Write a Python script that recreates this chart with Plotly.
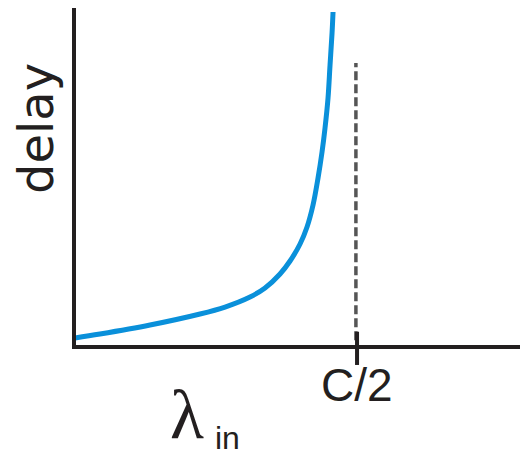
import plotly.graph_objects as go

# arrival rate (in units of C/2) and delay (arbitrary units)
lam = [0.0035, 0.0919, 0.2686, 0.4452, 0.5336, 0.6219, 0.6749, 0.7279, 0.7633, 0.7986, 0.8233,
       0.8445, 0.8622, 0.8763, 0.8869, 0.8975, 0.9046, 0.9117, 0.9152]
delay = [0.265, 0.382, 0.647, 0.971, 1.176, 1.471, 1.735, 2.147, 2.529, 3.029, 3.529,
         4.176, 4.971, 5.735, 6.441, 7.324, 8.294, 9.235, 9.853]
cap_x = [1.0]
cap_label = ["C/2"]
dash_top = 8.35

fig = go.Figure()
fig.add_trace(go.Scatter(x=lam, y=delay, mode="lines", line=dict(color="#0a90da", width=5, shape="spline", smoothing=1.0),
                         hoverinfo="skip", showlegend=False))
# dashed capacity line
fig.add_trace(go.Scatter(x=[cap_x[0] - 0.004, cap_x[0] - 0.004], y=[0.2, dash_top], mode="lines",
                         line=dict(color="#555555", width=3.5, dash="9px,4px"), hoverinfo="skip", showlegend=False))

ink = "#231f20"
fig.update_layout(
    width=528, height=457,
    margin=dict(l=66, r=8, t=0, b=118, autoexpand=False),
    paper_bgcolor="white", plot_bgcolor="white",
    xaxis=dict(range=[0, 1.604], visible=False, fixedrange=True),
    yaxis=dict(range=[0, 339 / 34], visible=False, fixedrange=True),
    shapes=[
        dict(type="line", xref="paper", yref="paper", x0=0, x1=0, y0=-0.006, y1=1.0, line=dict(color=ink, width=4)),
        dict(type="line", xref="paper", yref="paper", x0=-0.004, x1=1.0, y0=0, y1=0, line=dict(color=ink, width=4)),
        dict(type="line", xref="x", yref="paper", x0=cap_x[0], x1=cap_x[0], y0=-0.053, y1=0.045, line=dict(color=ink, width=4)),
    ],
    annotations=[
        dict(text="delay", xref="paper", yref="paper", x=-0.0837, y=0.643, textangle=-90, showarrow=False,
             font=dict(family="DejaVu Sans", size=48, color=ink), xanchor="center", yanchor="middle"),
        dict(text=cap_label[0], xref="x", yref="paper", x=cap_x[0], y=-0.112, showarrow=False,
             font=dict(family="Liberation Sans", size=46, color=ink), xanchor="center", yanchor="middle"),
        dict(text="λ", xref="paper", yref="paper", x=0.249, y=-0.2, showarrow=False,
             font=dict(family="Liberation Serif", size=70, color=ink), xanchor="center", yanchor="middle"),
        dict(text="in", xref="paper", yref="paper", x=0.339, y=-0.267, showarrow=False,
             font=dict(family="Liberation Sans", size=32, color=ink), xanchor="center", yanchor="middle"),
    ],
)
fig.write_html("out.html")
